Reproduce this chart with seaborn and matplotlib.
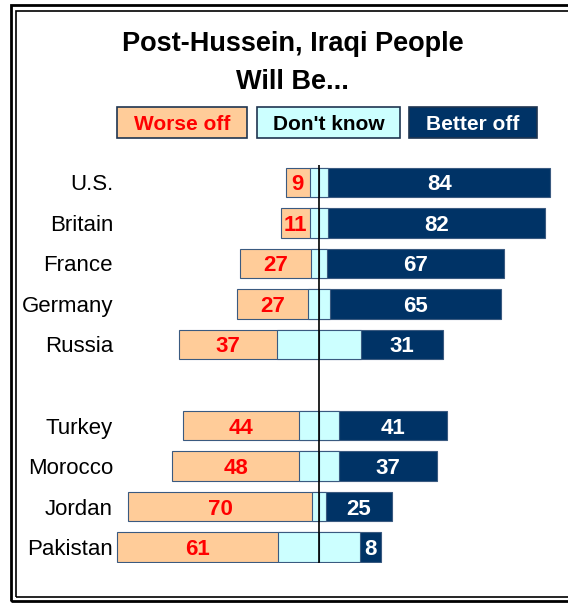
import matplotlib
matplotlib.use('Agg')
import matplotlib.pyplot as plt
from matplotlib.patches import Rectangle
import seaborn as sns
import pandas as pd

# Datos
countries = ['U.S.', 'Britain', 'France', 'Germany', 'Russia',
             'Turkey', 'Morocco', 'Jordan', 'Pakistan']
worse_off = [9, 11, 27, 27, 37, 44, 48, 70, 61]
dont_know = [7, 7, 6, 8, 32, 15, 15, 5, 31]
better_off = [84, 82, 67, 65, 31, 41, 37, 25, 8]

series_labels = ['Worse off', "Don't know", 'Better off']

df = pd.DataFrame({'country': countries, 'worse': worse_off,
                   'dk': dont_know, 'better': better_off})
df['left_total'] = -(df['dk'] / 2 + df['worse'])
df['dk_left'] = -df['dk'] / 2
df['dk_right'] = df['dk'] / 2
df['right_total'] = df['dk'] / 2 + df['better']

# linea en blanco entre los dos grupos
order = countries[:5] + [' '] + countries[5:]

PEACH = '#FFCC99'
CYAN = '#CCFFFF'
NAVY = '#003366'
EDGE = '#3A5A80'

sns.set_style('white')
plt.rcParams['font.family'] = ['Liberation Sans', 'DejaVu Sans']
plt.rcParams['text.color'] = 'black'
plt.rcParams['ytick.color'] = 'black'

W, H = 568, 603
fig = plt.figure(figsize=(W / 100, H / 100), dpi=100)

ax = fig.add_axes([114.4 / W, 1 - 563 / H, (W - 114.4) / W, (563 - 165) / H])

common = dict(y='country', order=order, orient='h', saturation=1,
              errorbar=None, width=0.73, edgecolor=EDGE, linewidth=0.8, ax=ax)
sns.barplot(data=df, x='left_total', color=PEACH, **common)
sns.barplot(data=df, x='right_total', color=NAVY, **common)
sns.barplot(data=df, x='dk_left', color=CYAN, **common)
sns.barplot(data=df, x='dk_right', color=CYAN, **common)

for _, row in df.iterrows():
    ypos = order.index(row['country'])
    ax.text(-(row['dk'] / 2 + row['worse'] / 2), ypos, f"{row['worse']}",
            ha='center', va='center_baseline', color='#FF0000', fontsize=16,
            fontweight='bold')
    ax.text(row['dk'] / 2 + row['better'] / 2, ypos, f"{row['better']}",
            ha='center', va='center_baseline', color='white', fontsize=16,
            fontweight='bold')

ax.axvline(0, color='black', linewidth=1.2, zorder=10)

ax.set_xlim(-77.5, 94.3)
ax.set_ylim(9.395, -0.432)
ax.set_xlabel('')
ax.set_ylabel('')
ax.set_xticks([])
ax.tick_params(axis='y', length=0, pad=1, labelsize=16, labelcolor='black')
sns.despine(ax=ax, left=True, bottom=True)

# Titulo
fig.text(292.5 / W, 1 - 44 / H, 'Post-Hussein, Iraqi People', ha='center',
         va='center', fontsize=19.5, fontweight='bold')
fig.text(292.5 / W, 1 - 82 / H, 'Will Be...', ha='center', va='center',
         fontsize=19.5, fontweight='bold')

# Leyenda en cajas
legend_boxes = [(117, 247, PEACH, '#FF0000'),
                (257, 400, CYAN, 'black'),
                (409, 537, NAVY, 'white')]
for label, (x0, x1, fc, tc) in zip(series_labels, legend_boxes):
    fig.add_artist(Rectangle((x0 / W, 1 - 138 / H), (x1 - x0) / W, 31 / H,
                             transform=fig.transFigure, facecolor=fc,
                             edgecolor='#1F3550', linewidth=1.2))
    fig.text((x0 + x1) / 2 / W, 1 - 122.5 / H, label, ha='center',
             va='center_baseline', color=tc, fontsize=15, fontweight='bold')

# Marco doble
fig.add_artist(Rectangle((11 / W, 1 - 601 / H), 600 / W, 596 / H,
                         transform=fig.transFigure, fill=False,
                         edgecolor='black', linewidth=2))
fig.add_artist(Rectangle((16 / W, 1 - 597 / H), 600 / W, 586 / H,
                         transform=fig.transFigure, fill=False,
                         edgecolor='black', linewidth=1.2))

fig.savefig('out.png', dpi=100)
